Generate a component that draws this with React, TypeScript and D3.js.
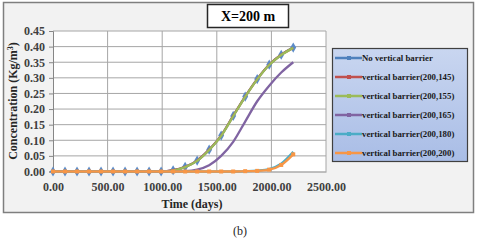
import React, { useEffect, useRef } from "react";
import * as d3 from "d3";

// time steps (days) and concentrations (Kg/m3)
const days = [0, 110, 220, 330, 440, 550, 660, 770, 880, 990, 1100, 1210, 1320, 1430, 1540, 1650, 1760, 1870, 1980, 2090, 2200];
const noBarrier = [0, 0, 0, 0, 0, 0, 0, 0, 0, 0, 0.004, 0.015, 0.035, 0.07, 0.115, 0.178, 0.24, 0.296, 0.342, 0.374, 0.397];
const barrier145 = [0, 0, 0, 0, 0, 0, 0, 0, 0, 0, 0.004, 0.015, 0.035, 0.07, 0.115, 0.178, 0.24, 0.296, 0.342, 0.374, 0.396];
const barrier155 = [0, 0, 0, 0, 0, 0, 0, 0, 0, 0, 0.003, 0.014, 0.034, 0.069, 0.114, 0.177, 0.239, 0.295, 0.341, 0.373, 0.396];
const barrier165 = [0, 0, 0, 0, 0, 0, 0, 0, 0, 0, 0, 0.001, 0.006, 0.02, 0.05, 0.095, 0.16, 0.225, 0.275, 0.317, 0.35];
const barrier180 = [0, 0, 0, 0, 0, 0, 0, 0, 0, 0, 0, 0, 0, 0, 0, 0, 0.001, 0.003, 0.008, 0.025, 0.063];
const barrier200 = [0, 0, 0, 0, 0, 0, 0, 0, 0, 0, 0, 0, 0, 0, 0, 0, 0.001, 0.002, 0.006, 0.021, 0.055];

const seriesNames = [
  "No vertical barrier",
  "vertical barrier(200,145)",
  "vertical barrier(200,155)",
  "vertical barrier(200,165)",
  "vertical barrier(200,180)",
  "vertical barrier(200,200)",
];
const seriesColors = ["#4f81bd", "#c0504d", "#9bbb59", "#8064a2", "#4bacc6", "#f79646"];
const xTicks = [0, 500, 1000, 1500, 2000, 2500];
const yTicks = [0, 0.05, 0.1, 0.15, 0.2, 0.25, 0.3, 0.35, 0.4, 0.45];

const App = () => {
  const svgRef = useRef<SVGSVGElement>(null);

  useEffect(() => {
    const svg = d3.select(svgRef.current);
    svg.selectAll("*").remove();

    const serif = "'Liberation Serif', 'Times New Roman', serif";
    const values = [noBarrier, barrier145, barrier155, barrier165, barrier180, barrier200];

    // outer frame
    svg.append("rect").attr("x", 3.5).attr("y", 2.5).attr("width", 470).attr("height", 210)
      .attr("fill", "#f2f2f2").attr("stroke", "#7f7f7f").attr("stroke-width", 1.5);

    const x = d3.scaleLinear().domain([0, 2500]).range([53, 326]);
    const y = d3.scaleLinear().domain([0, 0.45]).range([171.5, 31]);

    // plot area
    svg.append("rect").attr("x", 53).attr("y", 31).attr("width", 273).attr("height", 140.5).attr("fill", "#fff");

    // grid
    svg.append("g").selectAll("line").data(yTicks.slice(1)).enter().append("line")
      .attr("x1", 53).attr("x2", 326).attr("y1", (d) => y(d)).attr("y2", (d) => y(d))
      .attr("stroke", "#a6a6a6").attr("stroke-width", 1);
    svg.append("g").selectAll("line").data(xTicks.slice(1)).enter().append("line")
      .attr("x1", (d) => x(d)).attr("x2", (d) => x(d)).attr("y1", 31).attr("y2", 171.5)
      .attr("stroke", "#a6a6a6").attr("stroke-width", 1);

    // axes
    const yAxis = svg.append("g").attr("transform", "translate(53,0)")
      .call(d3.axisLeft(y).tickValues(yTicks).tickFormat(d3.format(".2f")).tickSize(4).tickPadding(4));
    yAxis.select(".domain").attr("stroke", "#868686");
    yAxis.selectAll(".tick line").attr("stroke", "#868686");
    yAxis.selectAll("text").attr("font-family", serif).attr("font-weight", "bold").attr("font-size", 12).attr("fill", "#404040");

    const xAxis = svg.append("g").attr("transform", "translate(0,171.5)")
      .call(d3.axisBottom(x).tickValues(xTicks).tickFormat(d3.format(".2f")).tickSize(0).tickPadding(11));
    xAxis.select(".domain").attr("stroke", "#868686");
    xAxis.selectAll("text").attr("font-family", serif).attr("font-weight", "bold").attr("font-size", 12).attr("fill", "#404040");

    // series lines
    const line = d3.line<number>().x((_, i) => x(days[i])).y((d) => y(d)).curve(d3.curveMonotoneX);
    values.forEach((vals, k) => {
      svg.append("path").datum(vals).attr("d", line).attr("fill", "none")
        .attr("stroke", seriesColors[k]).attr("stroke-width", 2.3);
      if (k === 0) {
        svg.append("g").selectAll("path").data(vals).enter().append("path")
          .attr("d", d3.symbol(d3.symbolDiamond, 30)())
          .attr("transform", (d, i) => `translate(${x(days[i])},${y(d)})`)
          .attr("fill", "#5b8bc8");
      }
      if (k === 5) {
        svg.append("g").selectAll("rect").data(vals).enter().append("rect")
          .attr("x", (d, i) => x(days[i]) - 2).attr("y", (d) => y(d) - 2)
          .attr("width", 4).attr("height", 4).attr("fill", seriesColors[5]);
      }
    });

    // title box
    svg.append("rect").attr("x", 207.5).attr("y", 4.5).attr("width", 81).attr("height", 23)
      .attr("fill", "#fff").attr("stroke", "#262626").attr("stroke-width", 1.5);
    svg.append("text").attr("x", 248).attr("y", 21).attr("text-anchor", "middle")
      .attr("font-family", serif).attr("font-weight", "bold").attr("font-size", 14).text("X=200 m");

    // axis titles
    svg.append("text").attr("x", 192).attr("y", 208).attr("text-anchor", "middle")
      .attr("font-family", serif).attr("font-weight", "bold").attr("font-size", 12).attr("fill", "#262626")
      .text("Time (days)");
    const yt = svg.append("text").attr("transform", "translate(17,101) rotate(-90)").attr("text-anchor", "middle")
      .attr("font-family", serif).attr("font-weight", "bold").attr("font-size", 12).attr("fill", "#262626");
    yt.append("tspan").text("Concentration (Kg/m");
    yt.append("tspan").attr("font-size", 8).attr("dy", -4).text("3");
    yt.append("tspan").attr("dy", 4).text(")");

    // legend
    const defs = svg.append("defs");
    const grad = defs.append("linearGradient").attr("id", "lg").attr("x1", 0).attr("y1", 0).attr("x2", 0).attr("y2", 1);
    grad.append("stop").attr("offset", "0%").attr("stop-color", "#c9d6f0");
    grad.append("stop").attr("offset", "100%").attr("stop-color", "#a9bde6");
    svg.append("rect").attr("x", 332.5).attr("y", 48.5).attr("width", 135).attr("height", 113)
      .attr("fill", "url(#lg)").attr("stroke", "#404040").attr("stroke-width", 1.2);
    const leg = svg.append("g").selectAll("g").data(seriesNames).enter().append("g")
      .attr("transform", (d, i) => `translate(0,${58 + i * 19})`);
    leg.append("line").attr("x1", 335).attr("x2", 362).attr("y1", 0).attr("y2", 0)
      .attr("stroke", (d, i) => seriesColors[i]).attr("stroke-width", 2.5);
    leg.append("rect").attr("x", 347).attr("y", -2).attr("width", 4).attr("height", 4)
      .attr("fill", (d, i) => seriesColors[i]);
    leg.append("text").attr("x", 362).attr("y", 3).attr("font-family", serif).attr("font-weight", "bold")
      .attr("font-size", 8.8).attr("fill", "#1a1a1a").text((d) => d);

    // caption
    svg.append("text").attr("x", 240).attr("y", 235).attr("text-anchor", "middle")
      .attr("font-family", serif).attr("font-size", 12).attr("fill", "#262626").text("(b)");
  }, []);

  return <svg ref={svgRef} width={480} height={240} style={{ position: "absolute", left: 0, top: 0, background: "#fff" }}></svg>;
};

export default App;
